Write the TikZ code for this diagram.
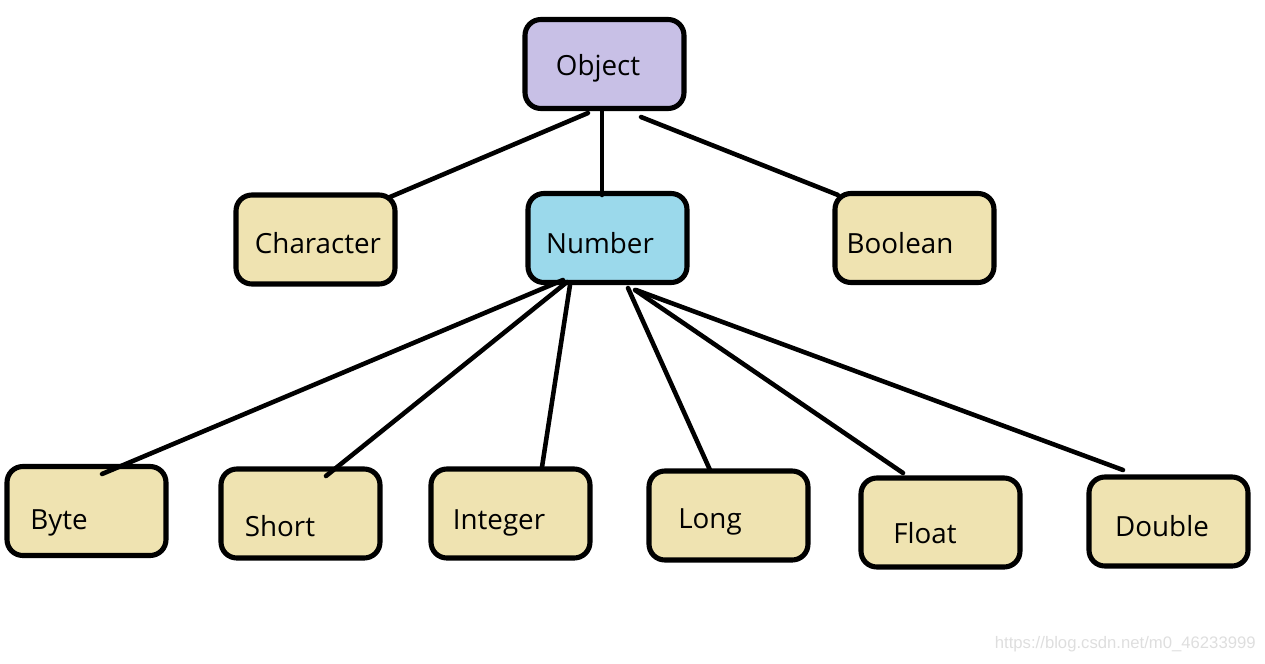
\documentclass[tikz,border=0pt]{standalone}
\usepackage{fontspec}
\setmainfont{Open Sans}
\newfontfamily\wmfont{Liberation Sans}
\usetikzlibrary{positioning}

\definecolor{objfill}{HTML}{C8C0E6}
\definecolor{numfill}{HTML}{9BD9EB}
\definecolor{tanfill}{HTML}{EFE3B1}

\tikzset{
  box/.style={draw=black, line width=2.9pt, rounded corners=9pt,
    minimum width=3.18cm, minimum height=1.78cm, inner sep=0pt},
  lbl/.style={font=\fontsize{15.8}{19}\selectfont, inner sep=0pt, yshift=-1.8pt},
  link/.style={line width=2.6pt, line cap=round},
}

\begin{document}
\begin{tikzpicture}[x=0.02cm, y=-0.02cm]
\useasboundingbox (0,0) rectangle (1265,663);

% boxes
\node[box, fill=objfill] (object) at (604.5,64) {};
\node[box, fill=tanfill] (character) at (315.5,239.5) {};
\node[box, fill=numfill] (number) at (607.5,238) {};
\node[box, fill=tanfill] (boolean) at (914.5,238) {};

\node[box, fill=tanfill] (byte) at (86.5,511) {};
\node[box, fill=tanfill] (short) at (300.5,513.5) {};
\node[box, fill=tanfill] (integer) at (510.5,513.5) {};
\node[box, fill=tanfill] (long) at (728.5,515.5) {};
\node[box, fill=tanfill] (float) at (940.5,522.5) {};
\node[box, fill=tanfill] (double) at (1168.5,521.5) {};

% texts
\node[lbl] (object-t) at (598,65) {Object};
\node[lbl] (character-t) at (318,240) {Character};
\node[lbl] (number-t) at (600,240) {Number};
\node[lbl] (boolean-t) at (900,240) {Boolean};
\node[lbl] (byte-t) at (59,520) {Byte};
\node[lbl] (short-t) at (280,523) {Short};
\node[lbl] (integer-t) at (499,520) {Integer};
\node[lbl] (long-t) at (710,519) {Long};
\node[lbl] (float-t) at (925,530) {Float};
\node[lbl] (double-t) at (1162,523) {Double};

% line ends
\coordinate (oc1) at (588,113); \coordinate (oc2) at (390,197);
\coordinate (on1) at (602,110); \coordinate (on2) at (602,195);
\coordinate (ob1) at (641,117); \coordinate (ob2) at (838,195);
\coordinate (nby1) at (563,280); \coordinate (nby2) at (102,474);
\coordinate (nsh1) at (567,282); \coordinate (nsh2) at (326,476);
\coordinate (nin1) at (570,285); \coordinate (nin2) at (542,467);
\coordinate (nlo1) at (628,288); \coordinate (nlo2) at (710,470);
\coordinate (nfl1) at (635,290); \coordinate (nfl2) at (903,473);
\coordinate (ndo1) at (636,290); \coordinate (ndo2) at (1123,470);

\draw[link] (oc1) -- (oc2);
\draw[link] (on1) -- (on2);
\draw[link] (ob1) -- (ob2);
\draw[link] (nby1) -- (nby2);
\draw[link] (nsh1) -- (nsh2);
\draw[link] (nin1) -- (nin2);
\draw[link] (nlo1) -- (nlo2);
\draw[link] (nfl1) -- (nfl2);
\draw[link] (ndo1) -- (ndo2);

% watermark
\node[font=\wmfont\fontsize{9.5}{11}\selectfont, text=black!13, anchor=east, inner sep=0pt] (mark) at (1256,644) {https://blog.csdn.net/m0\_46233999};

\end{tikzpicture}
\end{document}
